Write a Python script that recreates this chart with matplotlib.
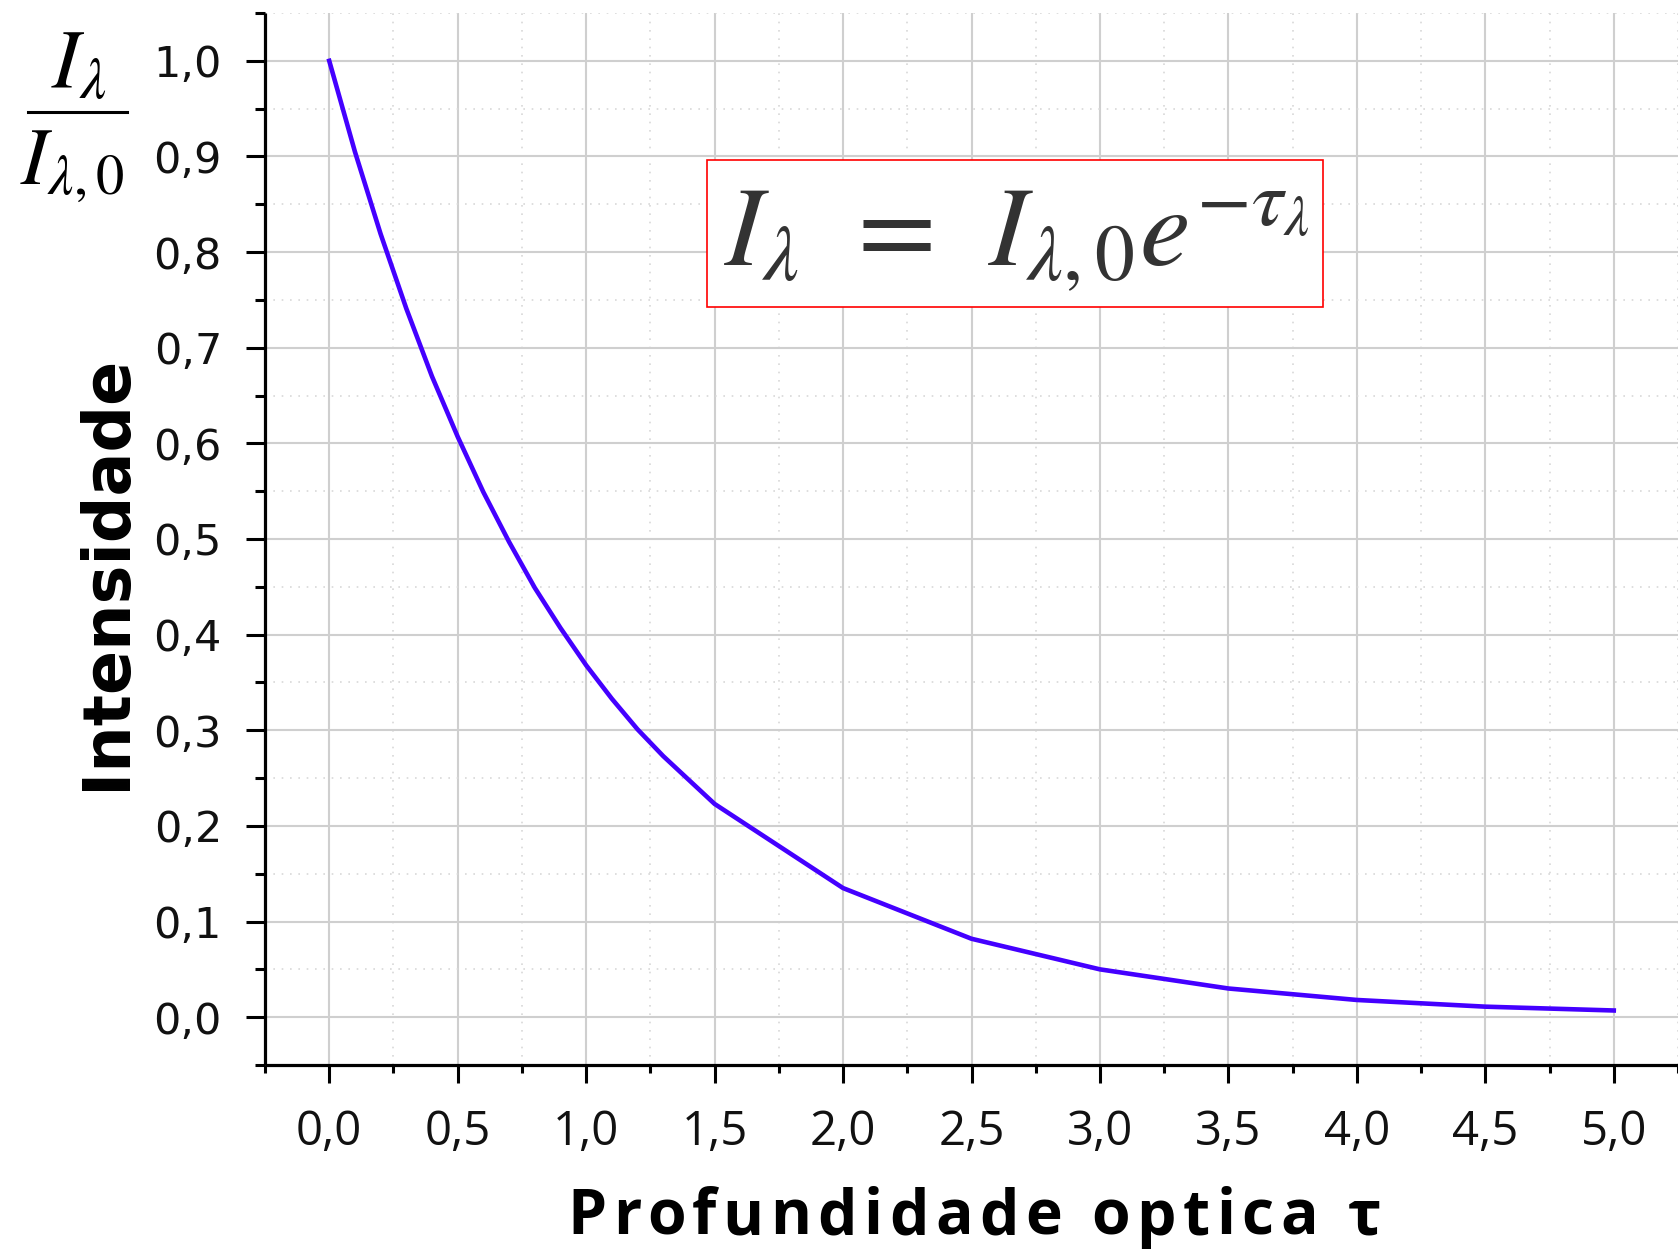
import matplotlib
matplotlib.use("Agg")
import matplotlib.pyplot as plt
from matplotlib.patches import Rectangle
from matplotlib.lines import Line2D
from matplotlib.ticker import FixedLocator, MultipleLocator

# Curva de atenuacao I/I0 em funcao da profundidade optica
tau = [0.0, 0.1, 0.2, 0.3, 0.4, 0.5, 0.6, 0.7, 0.8, 0.9, 1.0, 1.1, 1.2, 1.3, 1.5,
       2.0, 2.5, 3.0, 3.5, 4.0, 4.5, 5.0]
intensidade = [1.0, 0.905, 0.819, 0.741, 0.670, 0.607, 0.549, 0.497, 0.449, 0.407,
               0.368, 0.333, 0.301, 0.273, 0.223, 0.135, 0.082, 0.050, 0.030, 0.018,
               0.011, 0.007]

xticks = [0.0, 0.5, 1.0, 1.5, 2.0, 2.5, 3.0, 3.5, 4.0, 4.5, 5.0]
xtick_labels = ['0,0', '0,5', '1,0', '1,5', '2,0', '2,5', '3,0', '3,5', '4,0', '4,5', '5,0']
yticks = [0.0, 0.1, 0.2, 0.3, 0.4, 0.5, 0.6, 0.7, 0.8, 0.9, 1.0]
ytick_labels = ['0,0', '0,1', '0,2', '0,3', '0,4', '0,5', '0,6', '0,7', '0,8', '0,9', '1,0']

plt.rcParams['mathtext.fontset'] = 'stix'

W, H = 1678, 1249
fig = plt.figure(figsize=(W / 100, H / 100), dpi=100)
ax = fig.add_axes([265 / W, 1 - 1065 / H, (W - 265) / W, (1065 - 13) / H])


def texto_espacado(fig, xc, y, s, extra, **kw):
    """Escreve s centrado em xc (px) com espaco extra entre letras."""
    r = fig.canvas.get_renderer()

    def largura(txt):
        t = fig.text(0, 0, txt, **kw)
        w = t.get_window_extent(r).width
        t.remove()
        return w

    # largura de prefixos medida com um marcador para nao perder espacos finais
    ref = largura('|')
    pos = [largura(s[:i] + '|') - ref for i in range(len(s))]
    total = largura(s) + extra * (len(s) - 1)
    x0 = xc - total / 2
    for i, ch in enumerate(s):
        if ch == ' ':
            continue
        fig.text((x0 + pos[i] + extra * i) / W, y / H, ch, ha='left', va='center', **kw)


ax.plot(tau, intensidade, color='#4400ff', lw=3.3, zorder=3)

ax.set_xlim(-0.25, 5.25)
ax.set_ylim(-0.05, 1.05)

ax.xaxis.set_major_locator(FixedLocator(xticks))
ax.set_xticklabels(xtick_labels, fontfamily='Open Sans', fontsize=34, color='#111111')
ax.yaxis.set_major_locator(FixedLocator(yticks))
ax.set_yticklabels(ytick_labels, fontfamily='DejaVu Sans', fontsize=31, color='#111111')
ax.xaxis.set_minor_locator(MultipleLocator(0.25))
ax.yaxis.set_minor_locator(MultipleLocator(0.05))

ax.tick_params(axis='x', which='major', direction='out', length=13, width=2.2, pad=18)
ax.tick_params(axis='x', which='minor', direction='out', length=6, width=2.2)
ax.tick_params(axis='y', which='major', direction='out', length=14, width=2.2, pad=17)
ax.tick_params(axis='y', which='minor', direction='out', length=7, width=2.2)

ax.grid(which='major', color='#cfcfcf', lw=1.5, ls='-', zorder=0)
ax.grid(which='minor', color='#d8d8d8', lw=1.2, ls=(0, (1, 4)), zorder=0)

for s in ['top', 'right']:
    ax.spines[s].set_visible(False)
for s in ['left', 'bottom']:
    ax.spines[s].set_linewidth(2.3)
    ax.spines[s].set_color('black')
    ax.spines[s].set_capstyle('butt')

# caixa com a equacao
ax.add_patch(Rectangle((1.47, 0.743), 3.867 - 1.47, 0.8965 - 0.743,
                       facecolor='white', edgecolor='#ff0000', lw=1.2, zorder=4))
ax.text(1.536, 0.787, r'$I_{\lambda}\;\,=\;\,I_{\lambda,0}e^{-\tau_{\lambda}}$',
        fontsize=82, color='#333333', ha='left', va='baseline', zorder=5)

# rotulos dos eixos
texto_espacado(fig, 974, H - 1218, 'Profundidade optica τ', 6.5,
               fontfamily='Open Sans', fontweight='bold', fontsize=45, color='black')
fig.text(107 / W, 1 - 572 / H, 'Intensidade', fontfamily='DejaVu Sans',
         fontweight='bold', fontsize=47, rotation=90, ha='center', va='center', color='black')

# fracao I_lambda / I_lambda,0 no canto
fig.text(79 / W, 1 - 88 / H, r'$I_\lambda$', fontsize=60, ha='center', va='baseline')
fig.text(72 / W, 1 - 185 / H, r'$I_{\lambda,0}$', fontsize=58, ha='center', va='baseline')
fig.add_artist(Line2D([28 / W, 127 / W], [1 - 112 / H, 1 - 112 / H], color='black', lw=2.2,
                      transform=fig.transFigure))

fig.savefig('out.png', dpi=100, facecolor='white')
